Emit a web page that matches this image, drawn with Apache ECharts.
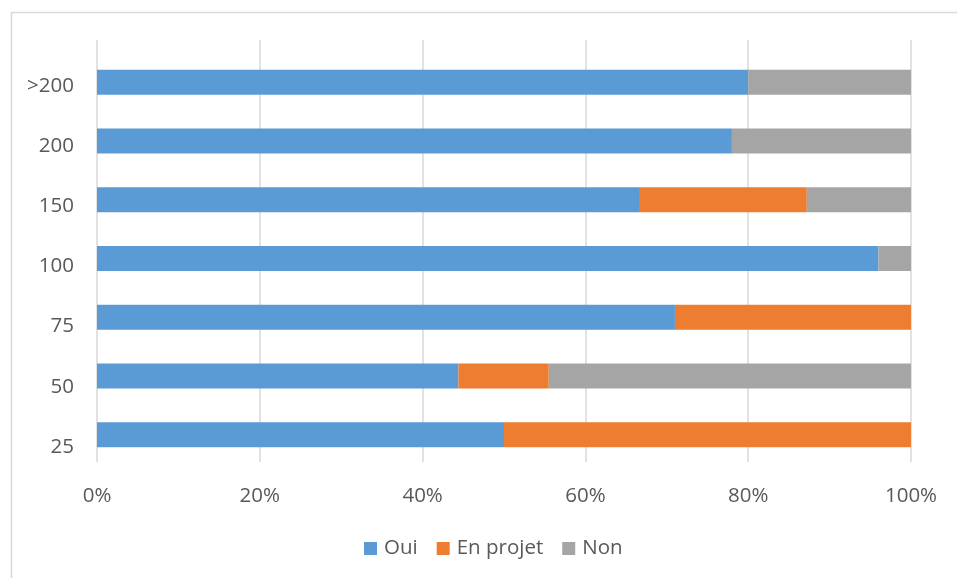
<!DOCTYPE html>
<html>
<head>
<meta charset="utf-8">
<script src="https://cdn.jsdelivr.net/npm/echarts@6/dist/echarts.min.js"></script>
<style>html,body{margin:0;padding:0;background:#fff}#c{width:957px;height:578px}</style>
</head>
<body>
<div id="c"></div>
<script>
var categories = ['25', '50', '75', '100', '150', '200', '>200'];
var oui = [50, 44.4, 71, 96, 66.7, 78, 80];
var enProjet = [50, 11.1, 29, 0, 20.5, 0, 0];
var non = [0, 44.5, 0, 4, 12.8, 22, 20];
var xTicks = [0, 20, 40, 60, 80, 100];

var FONT = '"Open Sans", "Liberation Sans", sans-serif';
var TXT = '#595959';
var FS = 20.5;
var chart = echarts.init(document.getElementById('c'), null, {renderer: 'canvas'});
chart.setOption({
  animation: false,
  textStyle: {fontFamily: FONT},
  graphic: [{
    type: 'rect', left: 9, top: 10, silent: true,
    shape: {x: 0, y: 0, width: 980, height: 600},
    style: {fill: 'none', stroke: '#D9D9D9', lineWidth: 1.5}
  }],
  grid: [
    {left: 97, right: 46, top: 40, bottom: 116},
    {left: 97, right: 46, top: 53, bottom: 114},
    {left: 97, right: 46, top: 56, bottom: 101}
  ],
  xAxis: [
    {gridIndex: 0, type: 'value', min: xTicks[0], max: xTicks[xTicks.length - 1], interval: 20,
     axisLabel: {show: false}, axisLine: {show: false}, axisTick: {show: false},
     splitLine: {show: true, lineStyle: {color: '#D9D9D9', width: 1.5}}},
    {gridIndex: 1, type: 'value', min: xTicks[0], max: xTicks[xTicks.length - 1], interval: 20,
     axisLine: {show: false}, axisTick: {show: false}, splitLine: {show: false},
     axisLabel: {color: TXT, fontSize: FS, fontFamily: FONT, margin: 22,
       formatter: function (v) { return v + '%'; }}},
    {gridIndex: 2, type: 'value', min: 0, max: 100, show: false}
  ],
  yAxis: [
    {gridIndex: 0, type: 'category', data: categories, show: false},
    {gridIndex: 1, type: 'category', data: categories, show: false},
    {gridIndex: 2, type: 'category', data: categories,
     axisLine: {show: false}, axisTick: {show: false}, splitLine: {show: false},
     axisLabel: {color: TXT, fontSize: FS, fontFamily: FONT, margin: 23}}
  ],
  legend: {
    left: 364, top: 538, padding: 0, icon: 'rect', itemWidth: 13, itemHeight: 13,
    itemGap: 19, textStyle: {color: TXT, fontSize: FS, fontFamily: FONT, padding: [0, 0, 0, 2]},
    data: ['Oui', 'En projet', 'Non']
  },
  series: [
    {name: 'Oui', type: 'bar', stack: 's', xAxisIndex: 1, yAxisIndex: 1, data: oui, barWidth: 25,
     itemStyle: {color: '#5B9BD5'}},
    {name: 'En projet', type: 'bar', stack: 's', xAxisIndex: 1, yAxisIndex: 1, data: enProjet, barWidth: 25,
     itemStyle: {color: '#ED7D31'}},
    {name: 'Non', type: 'bar', stack: 's', xAxisIndex: 1, yAxisIndex: 1, data: non, barWidth: 25,
     itemStyle: {color: '#A5A5A5'}}
  ]
});
</script>
</body>
</html>
